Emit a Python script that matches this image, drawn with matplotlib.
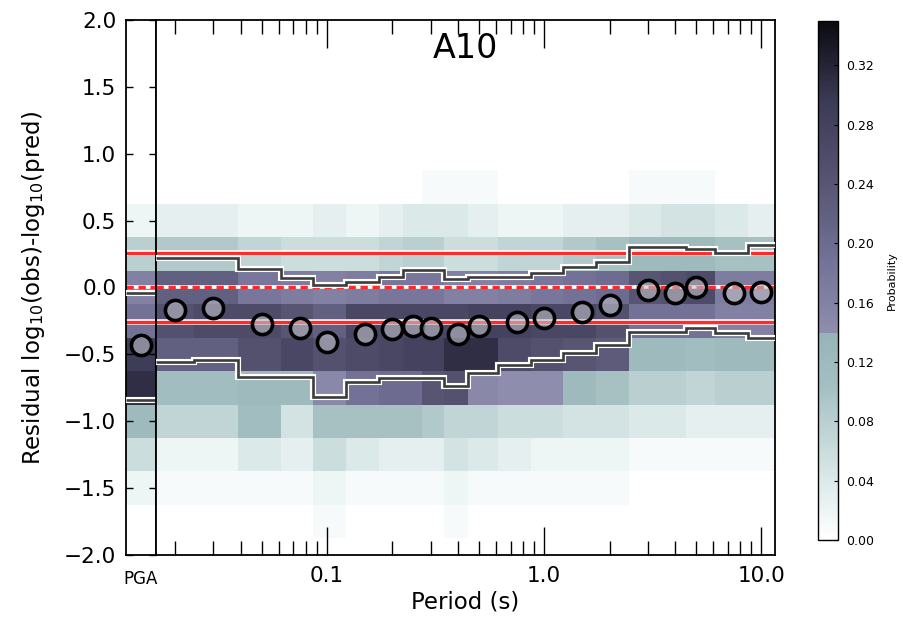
import numpy as np
import matplotlib
matplotlib.use('Agg')
import matplotlib.pyplot as plt
import matplotlib.patheffects as pe
from matplotlib.colors import LinearSegmentedColormap, ListedColormap
from matplotlib.ticker import FixedLocator, LogLocator, NullFormatter

# Spectral periods (s) used for the residual columns
periods = [0.02, 0.03, 0.05, 0.075, 0.1, 0.15, 0.2, 0.25, 0.3, 0.4,
           0.5, 0.75, 1.0, 1.5, 2.0, 3.0, 4.0, 5.0, 7.5, 10.0]

# Residual bin centres, top to bottom (bin width 0.25)
resid_bins = [0.75, 0.5, 0.25, 0.0, -0.25, -0.5, -0.75, -1.0, -1.25, -1.5, -1.75]

# Probability of each residual bin for PGA
pga_prob = [0.0, 0.02, 0.08, 0.16, 0.19, 0.29, 0.31, 0.12, 0.06, 0.02, 0.0]

# Probability of each residual bin (rows) for every period (columns)
period_prob = [
    [0.00, 0.00, 0.00, 0.00, 0.00, 0.00, 0.00, 0.00, 0.01, 0.01, 0.01, 0.00, 0.00, 0.00, 0.00, 0.01, 0.01, 0.01, 0.00, 0.00],
    [0.03, 0.03, 0.02, 0.02, 0.03, 0.02, 0.03, 0.04, 0.04, 0.04, 0.03, 0.02, 0.02, 0.03, 0.03, 0.04, 0.05, 0.05, 0.04, 0.03],
    [0.09, 0.09, 0.07, 0.06, 0.06, 0.06, 0.07, 0.08, 0.08, 0.06, 0.06, 0.07, 0.07, 0.09, 0.10, 0.12, 0.12, 0.12, 0.10, 0.10],
    [0.22, 0.22, 0.18, 0.17, 0.16, 0.17, 0.18, 0.18, 0.18, 0.16, 0.16, 0.17, 0.18, 0.19, 0.20, 0.24, 0.25, 0.26, 0.17, 0.17],
    [0.25, 0.26, 0.26, 0.24, 0.22, 0.27, 0.27, 0.27, 0.27, 0.27, 0.28, 0.28, 0.27, 0.27, 0.25, 0.19, 0.19, 0.19, 0.16, 0.16],
    [0.22, 0.22, 0.25, 0.27, 0.25, 0.26, 0.27, 0.28, 0.28, 0.31, 0.31, 0.26, 0.25, 0.24, 0.23, 0.12, 0.12, 0.11, 0.12, 0.12],
    [0.11, 0.11, 0.12, 0.12, 0.15, 0.19, 0.20, 0.20, 0.24, 0.25, 0.15, 0.14, 0.14, 0.12, 0.10, 0.08, 0.08, 0.07, 0.08, 0.08],
    [0.07, 0.07, 0.11, 0.05, 0.10, 0.10, 0.10, 0.10, 0.09, 0.07, 0.07, 0.06, 0.06, 0.05, 0.05, 0.04, 0.04, 0.03, 0.03, 0.03],
    [0.02, 0.02, 0.04, 0.03, 0.06, 0.04, 0.03, 0.03, 0.03, 0.05, 0.04, 0.03, 0.02, 0.02, 0.02, 0.01, 0.01, 0.01, 0.01, 0.01],
    [0.01, 0.01, 0.01, 0.01, 0.02, 0.01, 0.01, 0.01, 0.01, 0.02, 0.01, 0.01, 0.01, 0.01, 0.01, 0.00, 0.00, 0.00, 0.00, 0.00],
    [0.00, 0.00, 0.00, 0.00, 0.01, 0.00, 0.00, 0.00, 0.00, 0.01, 0.00, 0.00, 0.00, 0.00, 0.00, 0.00, 0.00, 0.00, 0.00, 0.00],
]

# Mean residual and 16th / 84th percentile bounds
pga_mean = -0.43
pga_upper = -0.04
pga_lower = -0.84
mean_resid = [-0.17, -0.15, -0.27, -0.30, -0.41, -0.35, -0.31, -0.29, -0.30, -0.35,
              -0.29, -0.26, -0.23, -0.18, -0.13, -0.02, -0.04, 0.00, -0.04, -0.03]
upper_resid = [0.22, 0.22, 0.14, 0.07, 0.02, 0.04, 0.08, 0.13, 0.13, 0.06,
               0.08, 0.08, 0.11, 0.15, 0.19, 0.30, 0.30, 0.29, 0.26, 0.32]
lower_resid = [-0.56, -0.54, -0.67, -0.67, -0.82, -0.71, -0.68, -0.68, -0.68, -0.74,
               -0.64, -0.58, -0.54, -0.49, -0.43, -0.33, -0.33, -0.30, -0.34, -0.38]

# Model standard deviation (log10 units)
sigma = 0.26

model_name = 'A10'


def make_cmap():
    # light teal ramp below 0.14, purple-grey to black above
    low = LinearSegmentedColormap.from_list(
        'low', ['#ffffff', '#e0ecec', '#c2d6d7', '#a4bfc1', '#97b4b7'])
    high = LinearSegmentedColormap.from_list(
        'high', ['#8f8dad', '#716f94', '#55536f', '#3b3a55', '#0a0a10'])
    n_low = 102
    colors = np.vstack([low(np.linspace(0, 1, n_low)),
                        high(np.linspace(0, 1, 256 - n_low))])
    return ListedColormap(colors, name='resid')


def period_edges(p):
    p = np.asarray(p)
    mids = np.sqrt(p[:-1] * p[1:])
    first = p[0] * np.sqrt(p[0] / p[1])
    last = p[-1] * np.sqrt(p[-1] / p[-2])
    return np.concatenate([[first], mids, [last]])


def sigma_lines(ax):
    white = [pe.Stroke(linewidth=4.0, foreground='white'), pe.Normal()]
    for s in (sigma, -sigma):
        ax.axhline(s, color='#ff2b2b', lw=2.4, zorder=2, path_effects=white)
    ax.axhline(0.0, color='white', lw=2.6, zorder=2)
    ax.axhline(0.0, color='#ff2b2b', lw=2.4, ls=(0, (2.2, 1.4)), zorder=2)


def main() -> None:
    cmap = make_cmap()
    vmax = 0.35

    centres = np.array(resid_bins)[::-1]
    y_edges = np.concatenate([centres - 0.125, [centres[-1] + 0.125]])
    grid = np.array(period_prob)[::-1]
    pga_col = np.array(pga_prob)[::-1].reshape(-1, 1)
    x_edges = period_edges(periods)

    fig = plt.figure(figsize=(9.04, 6.17), dpi=100)
    bottom, height = 0.1005, 0.8671
    ax_pga = fig.add_axes([0.1394, bottom, 0.0332, height])
    ax = fig.add_axes([0.1726, bottom, 0.6847, height])
    cax = fig.add_axes([0.905, 0.1248, 0.022, 0.8412])

    step_fx = [pe.Stroke(linewidth=4.4, foreground='white'), pe.Normal()]
    marker_kw = dict(marker='o', ls='none', ms=14.5, mfc=(0.75, 0.75, 0.78, 0.6),
                     mec='black', mew=2.6, zorder=5, clip_on=False)

    # PGA column
    ax_pga.pcolormesh([0, 1], y_edges, pga_col, cmap=cmap, vmin=0, vmax=vmax)
    sigma_lines(ax_pga)
    for v in (pga_upper, pga_lower):
        ax_pga.hlines(v, 0, 1, color='#3c3c3c', lw=1.9, zorder=3, path_effects=step_fx)
    ax_pga.plot([0.5], [pga_mean], **marker_kw)
    ax_pga.set_xlim(0, 1)
    ax_pga.set_ylim(-2, 2)
    ax_pga.set_xticks([0.5])
    ax_pga.set_xticklabels(['PGA'], fontsize=12)
    ax_pga.tick_params(axis='x', length=0, pad=11)
    ax_pga.set_yticks(np.arange(-2.0, 2.01, 0.5))
    ax_pga.tick_params(axis='y', direction='in', left=True, right=True,
                       length=5, width=1, labelsize=15.5, pad=7)
    ax_pga.set_ylabel(r'Residual log$_{10}$(obs)-log$_{10}$(pred)', fontsize=16.5, labelpad=12)

    # Spectral periods
    mesh = ax.pcolormesh(x_edges, y_edges, grid, cmap=cmap, vmin=0, vmax=vmax)
    sigma_lines(ax)
    ax.stairs(upper_resid, x_edges, baseline=None, color='#3c3c3c', lw=1.9,
              zorder=3, path_effects=step_fx)
    ax.stairs(lower_resid, x_edges, baseline=None, color='#3c3c3c', lw=1.9,
              zorder=3, path_effects=step_fx)
    ax.plot(periods, mean_resid, **marker_kw)

    ax.set_xscale('log')
    ax.set_xlim(x_edges[0], x_edges[-1])
    ax.set_ylim(-2, 2)
    ax.xaxis.set_major_locator(FixedLocator([0.1, 1.0, 10.0]))
    ax.set_xticklabels(['0.1', '1.0', '10.0'])
    ax.xaxis.set_minor_locator(LogLocator(base=10, subs=np.arange(2, 10)))
    ax.xaxis.set_minor_formatter(NullFormatter())
    ax.tick_params(axis='x', which='major', direction='in', top=True, bottom=True,
                   length=20, width=1, labelsize=15.5, pad=8)
    ax.tick_params(axis='x', which='minor', direction='in', top=True, bottom=True,
                   length=10, width=1)
    ax.tick_params(axis='y', left=False, right=False, labelleft=False)
    ax.set_xlabel('Period (s)', fontsize=16.5, labelpad=3)
    ax.text(0.5, 0.929, model_name, transform=ax.transAxes, ha='center',
            va='baseline', fontsize=24, zorder=6)

    for a in (ax_pga, ax):
        for sp in a.spines.values():
            sp.set_linewidth(1.3)

    # Colour scale
    cb = fig.colorbar(mesh, cax=cax, ticks=np.arange(0, 0.33, 0.04), format='%.2f')
    cb.outline.set_linewidth(1.0)
    cax.tick_params(labelsize=9, length=3, direction='in', pad=6)
    cb.set_label('Probability', fontsize=8, labelpad=9)

    fig.savefig('out.png', dpi=100)


if __name__ == '__main__':
    main()
